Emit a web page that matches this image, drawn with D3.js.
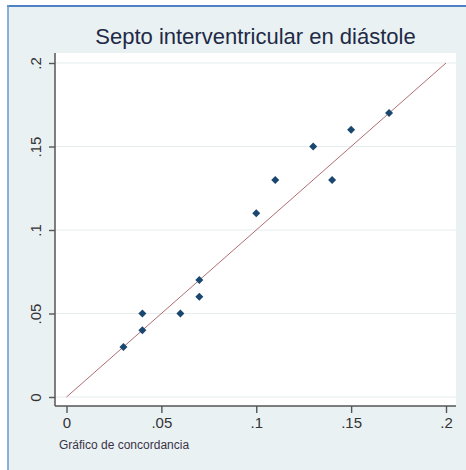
<!DOCTYPE html>
<html>
<head>
<meta charset="utf-8">
<script src="https://cdn.jsdelivr.net/npm/d3@7"></script>
<style>
  html, body { margin: 0; padding: 0; background: #ffffff; }
  svg { display: block; }
</style>
</head>
<body>
<svg id="chart" width="466" height="470"></svg>
<script>
// Septum thickness in diastole: first vs second measurement
const medicionX = [0.03, 0.04, 0.04, 0.06, 0.07, 0.07, 0.10, 0.11, 0.13, 0.14, 0.15, 0.17];
const medicionY = [0.03, 0.05, 0.04, 0.05, 0.07, 0.06, 0.11, 0.13, 0.15, 0.13, 0.16, 0.17];
const tickValues = [0, 0.05, 0.1, 0.15, 0.2];
const tickLabels = ["0", ".05", ".1", ".15", ".2"];
const titulo = "Septo interventricular en diástole";
const nota = "Gráfico de concordancia";

const svg = d3.select("#chart");
const W = 466, H = 470;

// graph region background and frame
svg.append("rect").attr("x", 8).attr("y", 6).attr("width", W - 8).attr("height", H - 6)
  .attr("fill", "#eaf1f3");
svg.append("line").attr("x1", 7).attr("x2", W).attr("y1", 6).attr("y2", 6)
  .attr("stroke", "#4f82c3").attr("stroke-width", 2);
svg.append("line").attr("x1", 8).attr("x2", 8).attr("y1", 5).attr("y2", H)
  .attr("stroke", "#6a96cc").attr("stroke-width", 1.5);

// plot region
const plot = { left: 55, right: 456, top: 53, bottom: 406 };
svg.append("rect").attr("x", plot.left).attr("y", plot.top)
  .attr("width", plot.right - plot.left).attr("height", plot.bottom - plot.top)
  .attr("fill", "#ffffff");

const x = d3.scaleLinear().domain([0, 0.2]).range([66.5, 446]);
const y = d3.scaleLinear().domain([0, 0.2]).range([397, 63]);

// horizontal grid
svg.append("g").selectAll("line").data(tickValues).join("line")
  .attr("x1", plot.left).attr("x2", plot.right)
  .attr("y1", d => y(d)).attr("y2", d => y(d))
  .attr("stroke", "#e6eef0").attr("stroke-width", 1.2);

// line of equality
svg.append("line")
  .attr("x1", x(0)).attr("y1", y(0)).attr("x2", x(0.2)).attr("y2", y(0.2))
  .attr("stroke", "#90353b").attr("stroke-width", 0.9).attr("stroke-opacity", 0.8);

// points
const pts = medicionX.map((v, i) => [v, medicionY[i]]);
svg.append("g").selectAll("path").data(pts).join("path")
  .attr("d", d3.symbol(d3.symbolSquare, 32))
  .attr("transform", d => `translate(${x(d[0])},${y(d[1])}) rotate(45)`)
  .attr("fill", "#1a476f");

// axes
const fmt = d => tickLabels[tickValues.indexOf(d)];
const xAxis = svg.append("g").attr("transform", `translate(0,${plot.bottom})`)
  .call(d3.axisBottom(x).tickValues(tickValues).tickFormat(fmt).tickSize(7).tickPadding(4).tickSizeOuter(0));
const yAxis = svg.append("g").attr("transform", `translate(${plot.left},0)`)
  .call(d3.axisLeft(y).tickValues(tickValues).tickFormat(fmt).tickSize(6).tickSizeOuter(0));

[xAxis, yAxis].forEach(a => {
  a.select(".domain").remove();
  a.selectAll(".tick line").attr("stroke", "#555").attr("stroke-width", 1.4);
  a.selectAll("text").attr("font-family", "Liberation Sans, Arial, sans-serif")
    .attr("font-size", 15).attr("fill", "#333");
});
yAxis.selectAll(".tick text")
  .attr("transform", "rotate(-90)")
  .attr("x", 0).attr("y", -14).attr("dy", 0)
  .attr("text-anchor", "middle");

// axis lines
svg.append("line").attr("x1", plot.left).attr("x2", plot.right)
  .attr("y1", plot.bottom).attr("y2", plot.bottom)
  .attr("stroke", "#555").attr("stroke-width", 1.5);
svg.append("line").attr("x1", plot.left).attr("x2", plot.left)
  .attr("y1", plot.top).attr("y2", plot.bottom)
  .attr("stroke", "#555").attr("stroke-width", 1.5);

// title
svg.append("text").attr("x", (plot.left + plot.right) / 2).attr("y", 44)
  .attr("text-anchor", "middle")
  .attr("font-family", "Liberation Sans, Arial, sans-serif")
  .attr("font-size", 22).attr("fill", "#1e2a46")
  .text(titulo);

// note
svg.append("text").attr("x", 59).attr("y", 449)
  .attr("font-family", "Liberation Sans, Arial, sans-serif")
  .attr("font-size", 12).attr("fill", "#3a3348")
  .text(nota);
</script>
</body>
</html>
